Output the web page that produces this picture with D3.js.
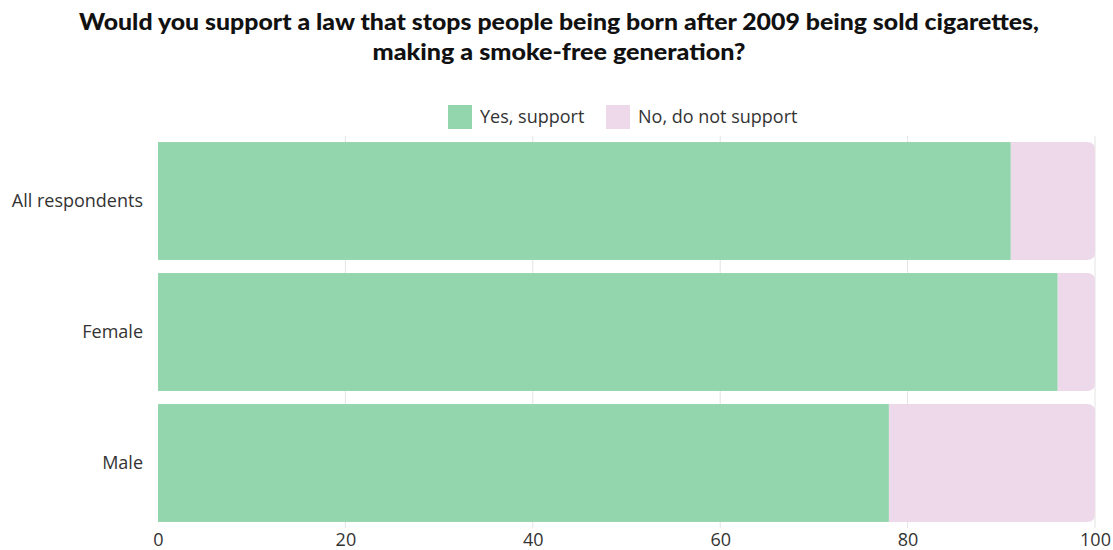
<!DOCTYPE html>
<html><head><meta charset="utf-8">
<script src="https://cdn.jsdelivr.net/npm/d3@7"></script>
<style>body{margin:0;background:#fff}svg{display:block}</style>
</head><body><svg id="c" width="1113" height="550"></svg>
<script>
const categories = ["All respondents", "Female", "Male"];
const yesValues = [91, 96, 78];
const noValues = [9, 4, 22];
const seriesNames = ["Yes, support", "No, do not support"];
const seriesColors = ["#93d5ad", "#edd9ea"];
const xTicks = [0, 20, 40, 60, 80, 100];
const titleLines = ["Would you support a law that stops people being born after 2009 being sold cigarettes,", "making a smoke-free generation?"];

const svg = d3.select("#c");
const font = "'Open Sans', Lato, sans-serif";
const titleFont = "Lato, 'Noto Sans', sans-serif";
const x = d3.scaleLinear().domain([0, 100]).range([158, 1095]);
const y = d3.scaleBand().domain(categories).range([135.5, 528.5]).paddingInner(0.1).paddingOuter(0.05);

// title
const titleWidths = [960, 373];
svg.append("g").selectAll("text").data(titleLines).join("text")
  .attr("x", 559).attr("y", (d, i) => 30 + i * 30)
  .attr("text-anchor", "middle").attr("font-family", titleFont).attr("font-weight", 900)
  .attr("font-size", 22).attr("fill", "#111")
  .attr("textLength", (d, i) => titleWidths[i]).attr("lengthAdjust", "spacingAndGlyphs")
  .text(d => d);

// gridlines
svg.append("g").selectAll("line").data(xTicks.slice(1)).join("line")
  .attr("x1", d => x(d)).attr("x2", d => x(d)).attr("y1", 136).attr("y2", 528)
  .attr("stroke", "#e3e3e3").attr("stroke-width", 1);

const rows = categories.map((c, i) => ({c, yes: yesValues[i], no: noValues[i]}));
const r = 8;
svg.append("g").selectAll("path").data(rows).join("path")
  .attr("fill", seriesColors[1])
  .attr("d", d => {
    const x0 = x(d.yes), x1 = x(d.yes + d.no), y0 = y(d.c), h = y.bandwidth();
    return `M${x0},${y0}H${x1 - r}Q${x1},${y0} ${x1},${y0 + r}V${y0 + h - r}Q${x1},${y0 + h} ${x1 - r},${y0 + h}H${x0}Z`;
  });
svg.append("g").selectAll("rect").data(rows).join("rect")
  .attr("x", x(0)).attr("y", d => y(d.c)).attr("width", d => x(d.yes) - x(0))
  .attr("height", y.bandwidth()).attr("fill", seriesColors[0]);

// x axis
const xa = svg.append("g").attr("transform", "translate(0,528)")
  .call(d3.axisBottom(x).tickValues(xTicks).tickSize(0).tickPadding(5));
xa.select(".domain").remove();
xa.selectAll("text").attr("font-family", font).attr("font-size", 18).attr("fill", "#333");

// y axis
const ya = svg.append("g").attr("transform", "translate(158,0)")
  .call(d3.axisLeft(y).tickSize(0).tickPadding(15));
ya.select(".domain").remove();
ya.selectAll("text").attr("font-family", font).attr("font-size", 18).attr("fill", "#333");

// legend
const leg = svg.append("g");
const legX = [448, 606];
seriesNames.forEach((n, i) => {
  leg.append("rect").attr("x", legX[i]).attr("y", 105).attr("width", 24).attr("height", 24).attr("fill", seriesColors[i]);
  leg.append("text").attr("x", legX[i] + 32).attr("y", 123).attr("font-family", font)
    .attr("font-size", 18).attr("fill", "#333").text(n);
});
</script></body></html>
